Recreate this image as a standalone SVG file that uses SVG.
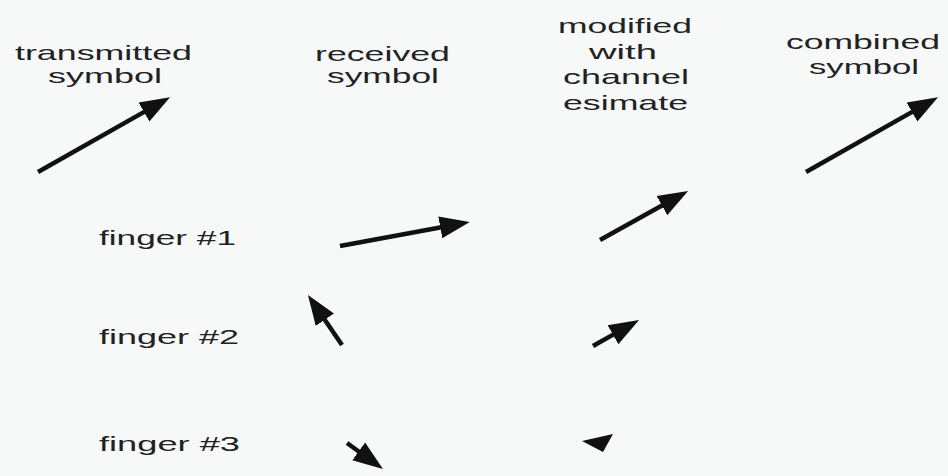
<svg xmlns="http://www.w3.org/2000/svg" width="948" height="476" viewBox="0 0 948 476">
<defs>
<style>
.t{font-family:"Liberation Sans",Arial,sans-serif;font-size:21px;fill:#222;}
.f{font-family:"Liberation Sans",Arial,sans-serif;font-size:21px;fill:#222;}
.v{stroke:#111;stroke-width:4.5;fill:none;marker-end:url(#head);}
</style>
<marker id="head" markerUnits="userSpaceOnUse" markerWidth="32" markerHeight="26" viewBox="0 0 32 26" refX="15" refY="13" orient="auto">
<path d="M0,2 L30,13 L0,24 z" fill="#111"/>
</marker>
</defs>
<rect width="948" height="476" fill="#f7f9f9"/>
<g id="labels">
<g id="col-transmitted">
<text class="t" x="15" y="60" textLength="177" lengthAdjust="spacingAndGlyphs">transmitted</text>
<text class="t" x="48" y="83" textLength="114" lengthAdjust="spacingAndGlyphs">symbol</text>
</g>
<g id="col-received">
<text class="t" x="315" y="61" textLength="135" lengthAdjust="spacingAndGlyphs">received</text>
<text class="t" x="327" y="83" textLength="112" lengthAdjust="spacingAndGlyphs">symbol</text>
</g>
<g id="col-modified">
<text class="t" x="558" y="33" textLength="134" lengthAdjust="spacingAndGlyphs">modified</text>
<text class="t" x="589" y="59" textLength="68" lengthAdjust="spacingAndGlyphs">with</text>
<text class="t" x="563" y="84" textLength="126" lengthAdjust="spacingAndGlyphs">channel</text>
<text class="t" x="563" y="110" textLength="125" lengthAdjust="spacingAndGlyphs">esimate</text>
</g>
<g id="col-combined">
<text class="t" x="786" y="49" textLength="154" lengthAdjust="spacingAndGlyphs">combined</text>
<text class="t" x="809" y="74" textLength="110" lengthAdjust="spacingAndGlyphs">symbol</text>
</g>
<g id="row-finger1"><text class="f" x="99" y="245" textLength="137" lengthAdjust="spacingAndGlyphs">finger #1</text></g>
<g id="row-finger2"><text class="f" x="99" y="344" textLength="140" lengthAdjust="spacingAndGlyphs">finger #2</text></g>
<g id="row-finger3"><text class="f" x="99" y="451" textLength="141" lengthAdjust="spacingAndGlyphs">finger #3</text></g>
</g>
<g id="vectors">
<line id="v-transmitted" class="v" x1="38" y1="172" x2="157" y2="104.6"/>
<line id="v-received-1" class="v" x1="340" y1="246" x2="455" y2="224.7"/>
<line id="v-modified-1" class="v" x1="600" y1="240" x2="675" y2="198.3"/>
<line id="v-combined" class="v" x1="806" y1="172" x2="925" y2="104.6"/>
<line id="v-received-2" class="v" x1="342" y1="345" x2="316.4" y2="307.4"/>
<line id="v-modified-2" class="v" x1="593" y1="346" x2="626" y2="327.4"/>
<line id="v-received-3" class="v" x1="347" y1="443" x2="370.8" y2="460.2"/>
<path id="v-modified-3" d="M582,441 L613,434 L603,452 z" fill="#111"/>
</g>
</svg>
